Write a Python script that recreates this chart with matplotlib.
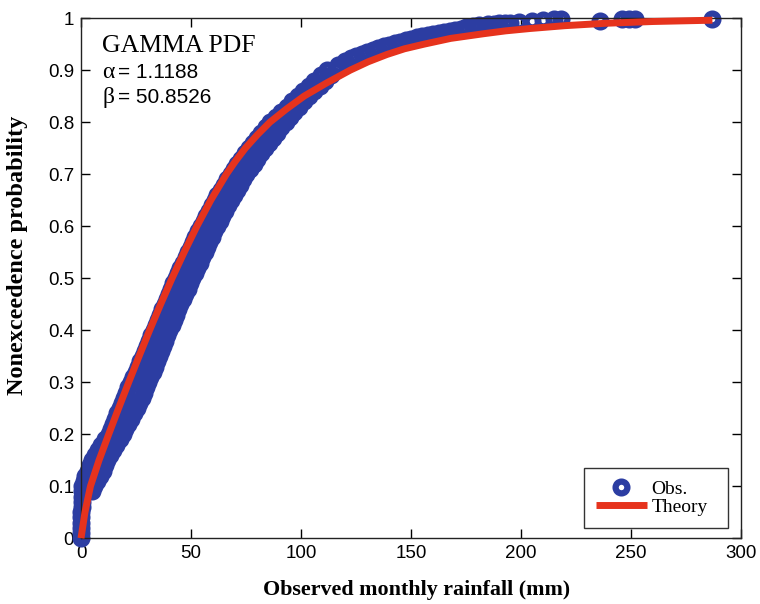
import matplotlib
matplotlib.use('Agg')
import matplotlib.pyplot as plt

# Observed monthly rainfall (mm) vs nonexceedence probability.
# Dry months at the bottom of the curve
dry_rain = [0, 0, 0, 0, 0, 0.2, 0.3, 0.3, 0.4]
dry_prob = [0.00, 0.01, 0.02, 0.03, 0.04, 0.05, 0.06, 0.07, 0.08]

# Main body of the sample: probability levels with the lower and upper
# rainfall seen at each level
band_prob = [0.09, 0.10, 0.11, 0.12, 0.13, 0.14, 0.15, 0.16, 0.17, 0.18,
             0.19, 0.20, 0.21, 0.22, 0.23, 0.24, 0.25, 0.26, 0.27, 0.28,
             0.29, 0.30, 0.31, 0.32, 0.33, 0.34, 0.35, 0.36, 0.37, 0.38,
             0.39, 0.40, 0.41, 0.42, 0.43, 0.44, 0.45, 0.46, 0.47, 0.48,
             0.49, 0.50, 0.51, 0.52, 0.53, 0.54, 0.55, 0.56, 0.57, 0.58,
             0.59, 0.60, 0.61, 0.62, 0.63, 0.64, 0.65, 0.66, 0.67, 0.68,
             0.69, 0.70, 0.71, 0.72, 0.73, 0.74, 0.75, 0.76, 0.77, 0.78,
             0.79, 0.80, 0.81, 0.82, 0.83, 0.84, 0.85, 0.86, 0.87, 0.88,
             0.89, 0.90]
band_rain_lo = [0.4, 0.5, 1.2, 2.0, 3.0, 4.0, 5.2, 6.5, 7.8, 9.0,
                10.8, 12.5, 13.5, 14.5, 15.5, 16.5, 17.5, 18.5, 19.5, 20.5,
                21.5, 22.5, 23.8, 25.0, 26.0, 27.0, 28.0, 29.0, 30.0, 31.0,
                32.0, 33.0, 34.0, 35.0, 36.0, 37.0, 38.0, 39.0, 40.0, 41.0,
                42.0, 43.0, 44.0, 45.0, 46.2, 47.5, 48.6, 49.8, 50.9, 52.0,
                53.2, 54.5, 55.8, 57.0, 58.2, 59.5, 60.8, 62.0, 63.5, 65.0,
                66.5, 68.0, 69.5, 71.0, 72.8, 74.5, 76.2, 78.0, 80.0, 82.0,
                84.0, 86.0, 88.5, 91.0, 93.5, 96.0, 98.5, 101.0, 103.5, 106.0,
                109.0, 112.0]
band_rain_hi = [5.0, 6.0, 7.2, 8.5, 9.8, 11.0, 12.0, 13.0, 14.5, 16.0,
                17.5, 19.0, 20.2, 21.5, 22.8, 24.0, 25.3, 26.5, 27.7, 28.8,
                29.7, 30.5, 31.5, 32.6, 33.5, 34.5, 35.5, 36.4, 37.4, 38.3,
                39.2, 40.2, 41.2, 42.2, 43.2, 44.2, 45.2, 46.2, 47.3, 48.5,
                49.5, 50.6, 51.7, 52.8, 53.9, 55.0, 56.2, 57.3, 58.4, 59.5,
                60.6, 61.8, 63.0, 64.3, 65.5, 66.8, 68.1, 69.5, 70.9, 72.3,
                73.6, 75.0, 76.8, 78.5, 80.2, 82.0, 83.8, 85.5, 87.2, 89.0,
                91.0, 93.0, 95.0, 97.0, 99.2, 101.5, 103.8, 106.0, 108.5, 111.0,
                113.5, 116.0]

# Wet tail
tail_rain = [117, 120, 122.5, 125, 127.5, 130, 132.5, 135, 137.5, 140, 142.5,
             145, 147.5, 150, 152.5, 155, 157.5, 160, 162.5, 165, 167.5, 170,
             172.5, 175, 178, 181, 185, 187.5, 190, 192.5, 195, 199, 205, 210,
             215, 218, 236, 246, 249, 252, 287]
tail_prob = [0.910, 0.918, 0.923, 0.927, 0.931, 0.935, 0.939, 0.942, 0.946,
             0.949, 0.952, 0.955, 0.958, 0.960, 0.963, 0.965, 0.968, 0.970,
             0.972, 0.974, 0.976, 0.978, 0.980, 0.982, 0.984, 0.987, 0.988,
             0.989, 0.990, 0.990, 0.991, 0.992, 0.995, 0.997, 0.998, 0.998,
             0.994, 0.998, 0.998, 0.998, 0.999]

# Fitted gamma CDF
theory_rain = [0, 1.8, 4.3, 8.2, 12.6, 17.1, 21.7, 26.4, 31.2, 36.2, 41.4, 46.9,
               52.7, 59.0, 66.1, 70.2, 74.7, 80.0, 85.9, 93.3, 101.4, 111.5,
               122.4, 130.5, 139, 147, 156, 168, 183, 193, 204, 220, 238, 260,
               287]
theory_prob = [0, 0.05, 0.10, 0.15, 0.20, 0.25, 0.30, 0.35, 0.40, 0.45, 0.50,
               0.55, 0.60, 0.65, 0.70, 0.725, 0.75, 0.775, 0.80, 0.825, 0.85,
               0.875, 0.90, 0.916, 0.93, 0.941, 0.95, 0.961, 0.97, 0.9755,
               0.98, 0.9855, 0.99, 0.9935, 0.996]

alpha = 1.1188
beta = 50.8526

obs_rain = dry_rain + band_rain_lo + band_rain_hi + tail_rain
obs_prob = dry_prob + band_prob + band_prob + tail_prob

blue = '#2c3da2'
red = '#e6331d'
serif = 'Liberation Serif'
sans = 'Liberation Sans'

fig = plt.figure(figsize=(7.6, 6.04), dpi=100)
ax = fig.add_axes([0.1066, 0.109, 0.8684, 0.861])

ax.plot(obs_rain, obs_prob, linestyle='none', marker='o', markersize=8.5,
        markeredgewidth=4.5, markerfacecolor='none', markeredgecolor=blue,
        clip_on=False, label='Obs.', zorder=2)
ax.plot(theory_rain, theory_prob, color=red, linewidth=5, clip_on=False,
        solid_capstyle='butt', solid_joinstyle='round', label='Theory',
        zorder=3)

ax.set_xlim(0, 300)
ax.set_ylim(0, 1)
ax.set_xticks([0, 50, 100, 150, 200, 250, 300])
ax.set_yticks([0, 0.1, 0.2, 0.3, 0.4, 0.5, 0.6, 0.7, 0.8, 0.9, 1])
ax.set_yticklabels(['0', '0.1', '0.2', '0.3', '0.4', '0.5', '0.6', '0.7',
                    '0.8', '0.9', '1'])
ax.tick_params(direction='in', length=6.5, width=1, top=True, right=True,
               labelsize=13.5, pad=5)
for lab in ax.get_xticklabels() + ax.get_yticklabels():
    lab.set_fontfamily(sans)
for sp in ax.spines.values():
    sp.set_linewidth(1)
    sp.set_color('#222222')

ax.set_xlabel('Observed monthly rainfall (mm)', family=serif, fontweight='bold',
              fontsize=15.8)
ax.set_ylabel('Nonexceedence probability', family=serif, fontweight='bold',
              fontsize=17.5)
ax.xaxis.set_label_coords(0.509, -0.08)
ax.yaxis.set_label_coords(-0.080, 0.544)

# parameter box in the upper left
ax.text(0.032, 0.947, 'GAMMA PDF', transform=ax.transAxes, family=serif,
        fontsize=18.5, va='center', ha='left')
ax.text(0.032, 0.895, '\u03b1', transform=ax.transAxes, family=serif,
        fontsize=17, va='center', ha='left')
ax.text(0.056, 0.895, '= %.4f' % alpha, transform=ax.transAxes, family=sans,
        fontsize=15, va='center', ha='left')
ax.text(0.032, 0.847, '\u03b2', transform=ax.transAxes, family=serif,
        fontsize=17, va='center', ha='left')
ax.text(0.056, 0.847, '= %.4f' % beta, transform=ax.transAxes, family=sans,
        fontsize=15, va='center', ha='left')

leg = ax.legend(loc='lower left', bbox_to_anchor=(0.762, 0.019, 0.218, 0.11),
                mode='expand', prop={'family': serif, 'size': 14},
                handlelength=2.6, fancybox=False, framealpha=1,
                edgecolor='#333333', borderaxespad=0, labelspacing=0.05,
                handletextpad=0.25, borderpad=0.62)
leg.get_frame().set_linewidth(1)

fig.savefig('out.png', dpi=100)
